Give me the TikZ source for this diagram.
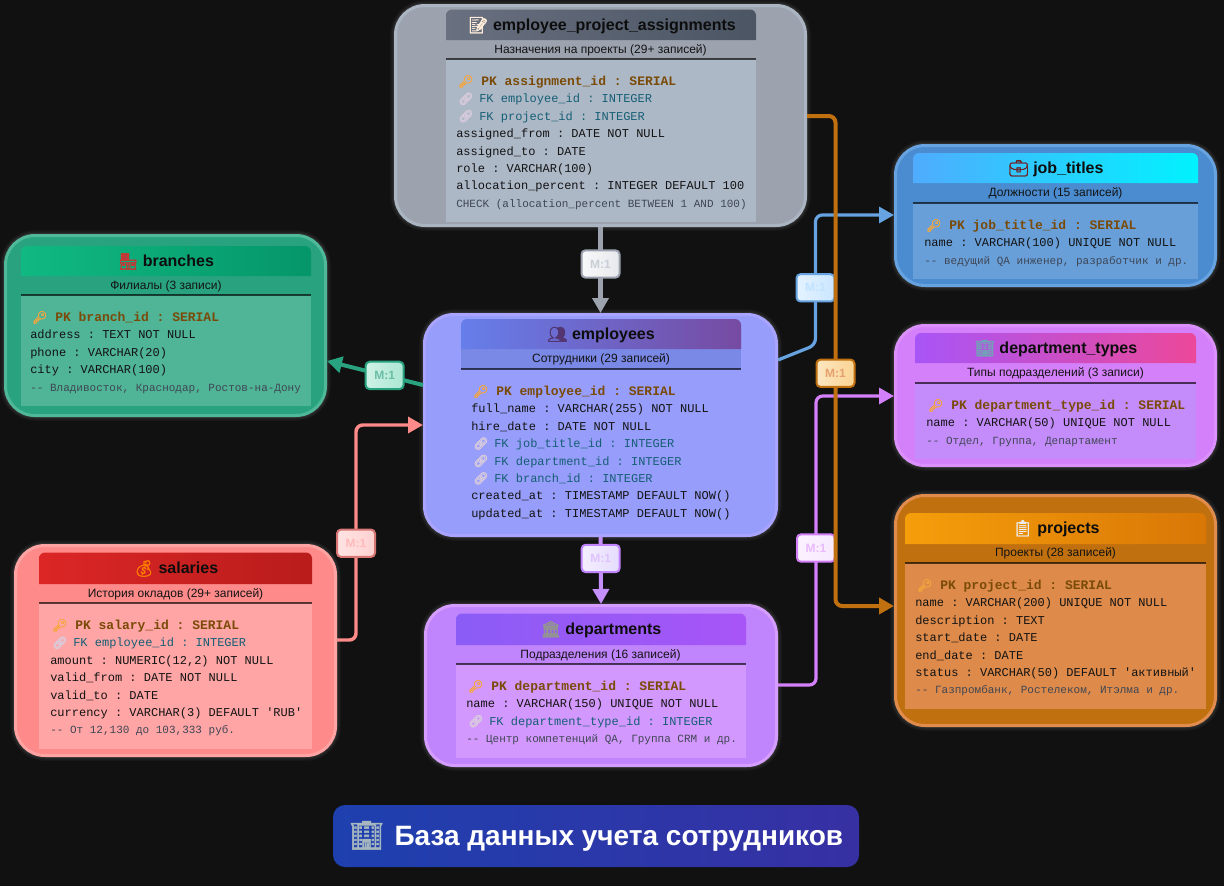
\documentclass[tikz,border=0pt]{standalone}
\usepackage{fontspec}
\usepackage{xcolor}
\usetikzlibrary{arrows.meta,fit}
\setmainfont{Liberation Sans}
\setmonofont{Liberation Mono}
\newfontfamily\emojifont[FakeBold=2]{Noto Emoji}

\definecolor{pageBg}{HTML}{111111}
\definecolor{pkText}{HTML}{7A4B08}
\definecolor{fkText}{HTML}{155E75}
\definecolor{keyIcon}{HTML}{F6A63C}
\definecolor{linkIcon}{HTML}{D9CCDC}
\definecolor{noteText}{HTML}{3F4654}
\definecolor{epaEdge}{HTML}{ABB4C1}\definecolor{epaFill}{HTML}{9CA3AF}\definecolor{epaBody}{HTML}{ADB8C7}\definecolor{epaA}{HTML}{697080}\definecolor{epaB}{HTML}{4B5563}
\definecolor{brEdge}{HTML}{4FB898}\definecolor{brFill}{HTML}{29A37F}\definecolor{brBody}{HTML}{50B496}\definecolor{brA}{HTML}{10B981}\definecolor{brB}{HTML}{059669}
\definecolor{emEdge}{HTML}{A8A4FF}\definecolor{emFill}{HTML}{979DFA}\definecolor{emBand}{HTML}{7A88E6}\definecolor{emA}{HTML}{667EEA}\definecolor{emB}{HTML}{764BA2}
\definecolor{jtEdge}{HTML}{66A3E0}\definecolor{jtFill}{HTML}{4A8CCF}\definecolor{jtBody}{HTML}{689FD9}\definecolor{jtA}{HTML}{4FACFE}\definecolor{jtB}{HTML}{00F2FE}
\definecolor{dtEdge}{HTML}{DB90FC}\definecolor{dtFill}{HTML}{D580FB}\definecolor{dtBody}{HTML}{C48CFB}\definecolor{dtA}{HTML}{A855F7}\definecolor{dtB}{HTML}{EC4899}
\definecolor{prEdge}{HTML}{E08C4C}\definecolor{prFill}{HTML}{C1700F}\definecolor{prBody}{HTML}{DD8A4A}\definecolor{prA}{HTML}{F59E0B}\definecolor{prB}{HTML}{D97706}
\definecolor{saEdge}{HTML}{FFA3A3}\definecolor{saFill}{HTML}{FE8A8A}\definecolor{saBody}{HTML}{FFA5A5}\definecolor{saA}{HTML}{DC2626}\definecolor{saB}{HTML}{B91C1C}
\definecolor{deEdge}{HTML}{D49DFF}\definecolor{deFill}{HTML}{C084FC}\definecolor{deBody}{HTML}{D398FD}\definecolor{deA}{HTML}{8B5CF6}\definecolor{deB}{HTML}{A855F7}
\definecolor{titleA}{HTML}{1E40AF}\definecolor{titleB}{HTML}{3730A3}

\newcommand{\emo}[2]{{\color{#1}\emojifont #2}}
\newcommand{\pkfield}[1]{\makebox[18.75pt][l]{\hspace{1.5pt}\emo{keyIcon}{🔑}}{\color{pkText}\bfseries\fontsize{9.75}{13.05}\selectfont #1}}
\newcommand{\fkfield}[1]{\makebox[17.25pt][l]{\hspace{1.5pt}\emo{linkIcon}{🔗}}{\color{fkText}#1}}
\newcommand{\notefield}[1]{{\color{noteText}\fontsize{8.25}{13.05}\selectfont #1}}
\newcommand{\tablehead}[6]{\shade[left color=#5,right color=#6] (#1,#4) [rounded corners=4.5pt] -- (#1,#2) -- (#3,#2) [sharp corners] -- (#3,#4) -- cycle;}

\begin{document}
\begin{tikzpicture}[
  x=0.75pt, y=-0.75pt,
  card/.style 2 args={rectangle, draw=#1, fill=#2, line width=2.25pt, rounded corners=22pt, inner sep=0pt,
    preaction={draw=white, draw opacity=0.03, line width=8pt},
    preaction={draw=white, draw opacity=0.04, line width=6pt},
    preaction={draw=white, draw opacity=0.06, line width=4pt}},
  panel/.style={rectangle, inner sep=0pt},
  sepline/.style={draw=black, draw opacity=0.65, line width=1.5pt},
  headtext/.style={font=\bfseries\fontsize{12}{14}\selectfont, text=black!90!gray},
  subtext/.style={font=\fontsize{9}{11}\selectfont, text=black!85!gray},
  fields/.style={align=left, anchor=north west, inner sep=0pt, text=black!85!gray, font=\ttfamily\fontsize{9}{13.05}\selectfont},
  rel/.style={-{Triangle[length=11.25pt,width=12pt]}, rounded corners=5pt},
  tag/.style n args={4}{rectangle, left color=#1, right color=#2, draw=#3, text=#4, line width=1.5pt, rounded corners=3pt,
    minimum width=28.5pt, minimum height=20.5pt, inner sep=0pt, font=\bfseries\fontsize{9}{11}\selectfont}
]
\useasboundingbox (0,0) rectangle (1224,886);
\fill[pageBg] (0,0) rectangle (1224,886);

% employee_project_assignments
\node[card={epaEdge}{epaFill}, fit={(395.5,5.5)(805.5,225.5)}] (epa) {};
\node[panel, fill=epaBody, fit={(446,59)(756,222)}] (epaPanel) {};
\draw[sepline] (epaPanel.north west) -- (epaPanel.north east);
\tablehead{446}{9.5}{756}{40}{epaA}{epaB}
\node[headtext] (epaTitle) at (602,25.5) {\emo{white!85!orange}{📝} employee\_project\_assignments};
\node[subtext] (epaSub) at (600.5,50) {Назначения на проекты (29+ записей)};
\node[fields] (epaFields) at (456,75) {\pkfield{PK assignment\_id : SERIAL}\\
  \fkfield{FK employee\_id : INTEGER}\\
  \fkfield{FK project\_id : INTEGER}\\
  assigned\_from : DATE NOT NULL\\
  assigned\_to : DATE\\
  role : VARCHAR(100)\\
  allocation\_percent : INTEGER DEFAULT 100\\
  \notefield{CHECK (allocation\_percent BETWEEN 1 AND 100)}};

% branches
\node[card={brEdge}{brFill}, fit={(5.5,235.5)(325.5,415.5)}] (branches) {};
\node[panel, fill=brBody, fit={(21,295)(311,406)}] (brPanel) {};
\draw[sepline] (brPanel.north west) -- (brPanel.north east);
\tablehead{21}{246}{311}{276}{brA}{brB}
\node[headtext] (brTitle) at (166,261.5) {\emo{red!60!gray}{🏪} branches};
\node[subtext] (brSub) at (166,286) {Филиалы (3 записи)};
\node[fields] (brFields) at (30,311) {\pkfield{PK branch\_id : SERIAL}\\
  address : TEXT NOT NULL\\
  phone : VARCHAR(20)\\
  city : VARCHAR(100)\\
  \notefield{-- Владивосток, Краснодар, Ростов-на-Дону}};

% employees
\node[card={emEdge}{emFill}, fit={(424.5,314.5)(776.5,535.5)}] (employees) {};
\node[panel, fill=emBand, fit={(461,349)(741,369)}] (emBand) {};
\draw[sepline] (emBand.south west) -- (emBand.south east);
\tablehead{461}{319}{741}{349}{emA}{emB}
\node[headtext] (emTitle) at (601,335) {\emo{emB!70!black}{👥} employees};
\node[subtext] (emSub) at (601,359) {Сотрудники (29 записей)};
\node[fields] (emFields) at (471,385) {\pkfield{PK employee\_id : SERIAL}\\
  full\_name : VARCHAR(255) NOT NULL\\
  hire\_date : DATE NOT NULL\\
  \fkfield{FK job\_title\_id : INTEGER}\\
  \fkfield{FK department\_id : INTEGER}\\
  \fkfield{FK branch\_id : INTEGER}\\
  created\_at : TIMESTAMP DEFAULT NOW()\\
  updated\_at : TIMESTAMP DEFAULT NOW()};

% job_titles
\node[card={jtEdge}{jtFill}, fit={(895.5,145.5)(1215.5,285.5)}] (jobTitles) {};
\node[panel, fill=jtBody, fit={(913,203)(1198,279)}] (jtPanel) {};
\draw[sepline] (jtPanel.north west) -- (jtPanel.north east);
\tablehead{913}{153}{1198}{183}{jtA}{jtB}
\node[headtext] (jtTitle) at (1056,168.5) {\emo{red!40!black!75!gray}{💼} job\_titles};
\node[subtext] (jtSub) at (1055.5,193) {Должности (15 записей)};
\node[fields] (jtFields) at (924,219) {\pkfield{PK job\_title\_id : SERIAL}\\
  name : VARCHAR(100) UNIQUE NOT NULL\\
  \notefield{-- ведущий QA инженер, разработчик и др.}};

% department_types
\node[card={dtEdge}{dtFill}, fit={(895.5,325.5)(1215.5,465.5)}] (deptTypes) {};
\node[panel, fill=dtBody, fit={(915,383)(1196,459)}] (dtPanel) {};
\draw[sepline] (dtPanel.north west) -- (dtPanel.north east);
\tablehead{915}{333}{1196}{363}{dtA}{dtB}
\node[headtext] (dtTitle) at (1056,348.5) {\emo{cyan!40!gray}{🏢} department\_types};
\node[subtext] (dtSub) at (1055.5,373) {Типы подразделений (3 записи)};
\node[fields] (dtFields) at (926,399) {\pkfield{PK department\_type\_id : SERIAL}\\
  name : VARCHAR(50) UNIQUE NOT NULL\\
  \notefield{-- Отдел, Группа, Департамент}};

% projects
\node[card={prEdge}{prFill}, fit={(895.5,495.5)(1215.5,725.5)}] (projects) {};
\node[panel, fill=prBody, fit={(905,563)(1206,709)}] (prPanel) {};
\draw[sepline] (prPanel.north west) -- (prPanel.north east);
\tablehead{905}{513}{1206}{544}{prA}{prB}
\node[headtext] (prTitle) at (1056,528.5) {\emo{white!85!gray}{📋} projects};
\node[subtext] (prSub) at (1055.5,553) {Проекты (28 записей)};
\node[fields] (prFields) at (915,579) {\pkfield{PK project\_id : SERIAL}\\
  name : VARCHAR(200) UNIQUE NOT NULL\\
  description : TEXT\\
  start\_date : DATE\\
  end\_date : DATE\\
  status : VARCHAR(50) DEFAULT 'активный'\\
  \notefield{-- Газпромбанк, Ростелеком, Итэлма и др.}};

% salaries
\node[card={saEdge}{saFill}, fit={(15.5,545.5)(335.5,755.5)}] (salaries) {};
\node[panel, fill=saBody, fit={(39,603)(312,749)}] (saPanel) {};
\draw[sepline] (saPanel.north west) -- (saPanel.north east);
\tablehead{39}{552.5}{312}{584}{saA}{saB}
\node[headtext] (saTitle) at (176,568.5) {\emo{orange}{💰} salaries};
\node[subtext] (saSub) at (175.5,594) {История окладов (29+ записей)};
\node[fields] (saFields) at (50,619) {\pkfield{PK salary\_id : SERIAL}\\
  \fkfield{FK employee\_id : INTEGER}\\
  amount : NUMERIC(12,2) NOT NULL\\
  valid\_from : DATE NOT NULL\\
  valid\_to : DATE\\
  currency : VARCHAR(3) DEFAULT 'RUB'\\
  \notefield{-- От 12,130 до 103,333 руб.}};

% departments
\node[card={deEdge}{deFill}, fit={(425.5,605.5)(776.5,765.5)}] (departments) {};
\node[panel, fill=deBody, fit={(456,664)(746,758)}] (dePanel) {};
\draw[sepline] (dePanel.north west) -- (dePanel.north east);
\tablehead{456}{613.5}{746}{645}{deA}{deB}
\node[headtext] (deTitle) at (601,629.5) {\emo{gray!85!white}{🏛} departments};
\node[subtext] (deSub) at (600.5,655) {Подразделения (16 записей)};
\node[fields] (deFields) at (466,680) {\pkfield{PK department\_id : SERIAL}\\
  name : VARCHAR(150) UNIQUE NOT NULL\\
  \fkfield{FK department\_type\_id : INTEGER}\\
  \notefield{-- Центр компетенций QA, Группа CRM и др.}};

% connectors
\draw[rel, draw=epaFill, line width=3.2pt] (epa.south) -- node[pos=0.43, tag={white!95!gray}{epaEdge!30!white}{epaFill}{epaEdge!65!white}] (tagEpa) {M:1} (employees.north);
\draw[rel, draw=brFill, line width=3pt] (employees.west |- 0,385) -- node[pos=0.4, tag={brA!20!white}{brA!35!white}{brFill}{brFill!70!white}] (tagBr) {M:1} (branches.east |- 0,361);
\draw[rel, draw=saFill, line width=2.6pt] (salaries.east |- 0,640) -- (356,640) -- node[pos=0.45, tag={saEdge!30!white}{saEdge!50!white}{saFill!85!black}{saEdge!75!white}] (tagSa) {M:1} (356,425) -- (employees.west |- 0,425);
\draw[rel, draw=jtEdge, line width=2.4pt] (employees.east |- 0,360) -- (815.5,345) -- node[pos=0.44, tag={jtA!15!white}{jtA!30!white}{jtEdge}{jtA!35!white}] (tagJt) {M:1} (815.5,215) -- (jobTitles.west |- 0,215);
\draw[rel, draw=deFill!90!white, line width=3pt] (employees.south) -- node[pos=0.32, tag={deA!10!white}{deA!22!white}{deFill}{deFill!50!white}] (tagDe) {M:1} (departments.north);
\draw[rel, draw=dtFill, line width=2.4pt] (departments.east |- 0,685) -- (816,685) -- node[pos=0.474, tag={dtFill!10!white}{dtFill!18!white}{dtFill}{dtFill!55!white}] (tagDt) {M:1} (816,396) -- (deptTypes.west |- 0,396);
\draw[rel, draw=prFill, line width=3pt] (epa.east |- 0,116) -- (835.5,116) -- node[pos=0.525, tag={prA!25!white}{prA!45!white}{prFill}{prBody!80!white}] (tagPr) {M:1} (835.5,606) -- (projects.west |- 0,606);

% title
\node[rectangle, left color=titleA, right color=titleB, text=white, rounded corners=9pt, minimum width=394.5pt, minimum height=46.5pt, inner sep=0pt,
  font=\bfseries\fontsize{21}{25}\selectfont] (dbTitle) at (596,836) {\emo{cyan!20!gray!70!white}{🏢}\hspace{1.75pt} База данных учета сотрудников};
\end{tikzpicture}
\end{document}
